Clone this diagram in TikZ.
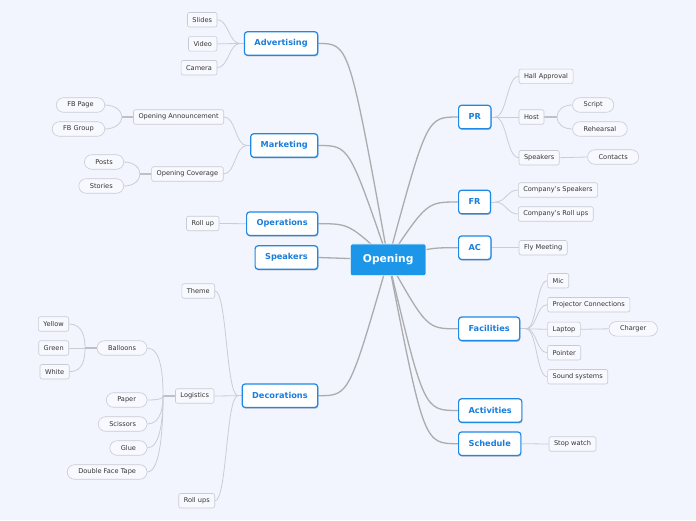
\documentclass[tikz,border=0pt]{standalone}
\usepackage{fontspec}
\setmainfont{DejaVu Sans}
\usetikzlibrary{shadows}
\definecolor{bg}{RGB}{242,245,254}
\definecolor{rootfill}{RGB}{27,150,232}
\definecolor{mainborder}{RGB}{30,136,229}
\definecolor{maintext}{RGB}{26,125,220}
\definecolor{shadowc}{RGB}{90,110,150}
\definecolor{leaffill}{RGB}{247,249,254}
\definecolor{leafborder}{RGB}{200,203,212}
\definecolor{leaftext}{RGB}{51,51,51}
\definecolor{trunkc}{RGB}{172,172,174}
\definecolor{subc}{RGB}{202,205,212}
\definecolor{stubc}{RGB}{190,192,198}
\pgfdeclarelayer{bgl}
\pgfdeclarelayer{edges}
\pgfsetlayers{bgl,edges,main}
\begin{document}
\begin{tikzpicture}[x=1pt,y=-1pt,
  rootnode/.style={fill=rootfill, draw=white, line width=0.6pt, rounded corners=2pt, text=white,
    font=\fontsize{10.7}{12}\selectfont\bfseries, inner xsep=12.5pt, inner ysep=0pt, minimum height=31.7pt},
  mainnode/.style={fill=white, draw=mainborder, line width=1.2pt, rounded corners=3pt, text=maintext,
    font=\fontsize{8.2}{10}\selectfont\bfseries, inner xsep=10pt, inner ysep=0pt, minimum height=23.5pt,
    drop shadow={shadow xshift=0.6pt, shadow yshift=-1.2pt, fill=shadowc, opacity=0.45}},
  leaf/.style={fill=leaffill, draw=leafborder, line width=0.6pt, rounded corners=2pt, text=leaftext,
    font=\fontsize{6.6}{8}\selectfont, inner xsep=5pt, inner ysep=0pt, minimum height=14.5pt},
  pill/.style={leaf, rounded corners=7.2pt, inner xsep=11pt},
  trunk/.style={draw=trunkc, line width=1.3pt},
  sub/.style={draw=subc, line width=0.8pt},
  stub/.style={draw=stubc, line width=1.8pt}
]
\begin{pgfonlayer}{bgl}
\fill[bg] (0,0) rectangle (696,520);
\end{pgfonlayer}
\useasboundingbox (0,0) rectangle (696,520);

% root
\node[rootnode] (root) at (388.2,259.8) {Opening};

% main nodes left
\node[mainnode, anchor=east] (adv) at (318.3,43.5) {Advertising};
\node[mainnode, anchor=east] (mkt) at (318.3,145.5) {Marketing};
\node[mainnode, anchor=east] (ops) at (318.3,223.7) {Operations};
\node[mainnode, anchor=east] (spk) at (318.3,257.5) {Speakers};
\node[mainnode, anchor=east] (dec) at (318.3,395.7) {Decorations};
% main nodes right
\node[mainnode, anchor=west] (pr) at (458,117) {PR};
\node[mainnode, anchor=west] (fr) at (458,202) {FR};
\node[mainnode, anchor=west] (ac) at (458,247.7) {AC};
\node[mainnode, anchor=west] (fac) at (458,328.8) {Facilities};
\node[mainnode, anchor=west] (act) at (458,410.5) {Activities};
\node[mainnode, anchor=west] (sch) at (458,443.7) {Schedule};

% left level 2
\node[leaf, anchor=east] (slides) at (217.3,19.7) {Slides};
\node[leaf, anchor=east] (video) at (217.3,43.8) {Video};
\node[leaf, anchor=east] (camera) at (217.3,67.7) {Camera};
\node[leaf, anchor=east] (oann) at (224,117) {Opening Announcement};
\node[leaf, anchor=east] (ocov) at (223.5,174) {Opening Coverage};
\node[leaf, anchor=east] (rollup) at (219.3,223.5) {Roll up};
\node[leaf, anchor=east] (theme) at (215,291) {Theme};
\node[leaf, anchor=east] (logi) at (214.3,396) {Logistics};
\node[leaf, anchor=east] (rollups) at (215,500.7) {Roll ups};
% left level 3
\node[pill, anchor=east] (fbpage) at (105,105) {FB Page};
\node[pill, anchor=east] (fbgroup) at (105,129) {FB Group};
\node[pill, anchor=east] (posts) at (124,162) {Posts};
\node[pill, anchor=east] (stories) at (124,186) {Stories};
\node[pill, anchor=east] (balloons) at (147.3,348) {Balloons};
\node[pill, anchor=east] (paper) at (147.3,400) {Paper};
\node[pill, anchor=east] (scissors) at (147.3,424) {Scissors};
\node[pill, anchor=east] (glue) at (147.3,448) {Glue};
\node[pill, anchor=east] (dft) at (147.3,472) {Double Face Tape};
% left level 4
\node[leaf, anchor=east] (yellow) at (69,324) {Yellow};
\node[leaf, anchor=east] (green) at (69,348) {Green};
\node[leaf, anchor=east] (white) at (69.5,371.7) {White};

% right level 2
\node[leaf, anchor=west] (hall) at (518.7,76.3) {Hall Approval};
\node[leaf, anchor=west] (host) at (518.7,117) {Host};
\node[leaf, anchor=west] (spk2) at (518.7,157.7) {Speakers};
\node[leaf, anchor=west] (csp) at (518,190) {Company's Speakers};
\node[leaf, anchor=west] (cru) at (518,214) {Company's Roll ups};
\node[leaf, anchor=west] (fly) at (518.7,247.7) {Fly Meeting};
\node[leaf, anchor=west] (mic) at (547.3,280.7) {Mic};
\node[leaf, anchor=west] (proj) at (547.3,304.7) {Projector Connections};
\node[leaf, anchor=west] (laptop) at (547.3,329.3) {Laptop};
\node[leaf, anchor=west] (pointer) at (547.3,352.7) {Pointer};
\node[leaf, anchor=west] (sound) at (547.3,376.7) {Sound systems};
\node[leaf, anchor=west] (stop) at (548.7,444) {Stop watch};
% right level 3
\node[pill, anchor=west] (script) at (572.3,105) {Script};
\node[pill, anchor=west] (rehe) at (572.3,129) {Rehearsal};
\node[pill, anchor=west] (contacts) at (587.3,157) {Contacts};
\node[pill, anchor=west] (charger) at (608.7,328.8) {Charger};

% junctions
\coordinate (jadv) at (240,43.5);
\coordinate (jmkt) at (247,145.5);
\coordinate (jdec) at (238,395.7);
\coordinate (joann) at (122,117);
\coordinate (jocov) at (140,174);
\coordinate (jlogi) at (163,396);
\coordinate (jball) at (85,348);
\coordinate (jpr) at (495,117);
\coordinate (jfr) at (495,202);
\coordinate (jfac) at (526,328.8);
\coordinate (jhost) at (557,117);

\begin{pgfonlayer}{edges}
% trunks
\draw[trunk] (adv.east) .. controls (349,43.5) .. (root.center);
\draw[trunk] (mkt.east) .. controls (349,145.5) .. (root.center);
\draw[trunk] (ops.east) .. controls (349,223.7) .. (root.center);
\draw[trunk] (spk.east) -- (root.center);
\draw[trunk] (dec.east) .. controls (349,395.7) .. (root.center);
\draw[trunk] (pr.west) .. controls (427,117) .. (root.center);
\draw[trunk] (fr.west) .. controls (427,202) .. (root.center);
\draw[trunk] (ac.west) .. controls (430,247.7) .. (root.center);
\draw[trunk] (fac.west) .. controls (427,328.8) .. (root.center);
\draw[trunk] (act.west) .. controls (424,410.5) .. (root.center);
\draw[trunk] (sch.west) .. controls (424,443.7) .. (root.center);

% advertising
\draw[sub] (jadv) -- (adv.west);
\draw[sub] (slides.east) .. controls +(11,0) and +(-11,0) .. (jadv);
\draw[sub] (video.east) -- (jadv);
\draw[sub] (camera.east) .. controls +(11,0) and +(-11,0) .. (jadv);
% marketing
\draw[sub] (jmkt) -- (mkt.west);
\draw[sub] (oann.east) .. controls +(12,0) and +(-12,0) .. (jmkt);
\draw[sub] (ocov.east) .. controls +(12,0) and +(-12,0) .. (jmkt);
\draw[stub] (oann.west) -- (joann);
\draw[sub] (fbpage.east) .. controls +(10,0) and +(0,-6) .. (joann);
\draw[sub] (fbgroup.east) .. controls +(10,0) and +(0,6) .. (joann);
\draw[stub] (ocov.west) -- (jocov);
\draw[sub] (posts.east) .. controls +(10,0) and +(0,-6) .. (jocov);
\draw[sub] (stories.east) .. controls +(10,0) and +(0,6) .. (jocov);
% operations
\draw[sub] (rollup.east) -- (ops.west);
% decorations
\draw[sub] (jdec) -- (dec.west);
\draw[sub] (theme.east) .. controls +(12,0) and +(-12,0) .. (jdec);
\draw[sub] (logi.east) -- (jdec);
\draw[sub] (rollups.east) .. controls +(12,0) and +(-12,0) .. (jdec);
\draw[stub] (logi.west) -- (jlogi);
\draw[sub] (balloons.east) .. controls +(14,0) and +(0,-20) .. (jlogi);
\draw[sub] (paper.east) .. controls +(10,0) and +(0,3) .. (jlogi);
\draw[sub] (scissors.east) .. controls +(14,0) and +(0,10) .. (jlogi);
\draw[sub] (glue.east) .. controls +(14,0) and +(0,18) .. (jlogi);
\draw[sub] (dft.east) .. controls +(14,0) and +(0,26) .. (jlogi);
\draw[stub] (balloons.west) -- (jball);
\draw[sub] (yellow.east) .. controls +(14,0) and +(0,-10) .. (jball);
\draw[sub] (green.east) -- (jball);
\draw[sub] (white.east) .. controls +(14,0) and +(0,10) .. (jball);
% PR
\draw[sub] (pr.east) -- (jpr);
\draw[sub] (jpr) .. controls +(12,0) and +(-12,0) .. (hall.west);
\draw[sub] (jpr) -- (host.west);
\draw[sub] (jpr) .. controls +(12,0) and +(-12,0) .. (spk2.west);
\draw[stub] (host.east) -- (jhost);
\draw[sub] (jhost) .. controls +(0,-7) and +(-9,0) .. (script.west);
\draw[sub] (jhost) .. controls +(0,7) and +(-9,0) .. (rehe.west);
\draw[sub] (spk2.east) -- (contacts.west);
% FR
\draw[sub] (fr.east) -- (jfr);
\draw[sub] (jfr) .. controls +(11,0) and +(-11,0) .. (csp.west);
\draw[sub] (jfr) .. controls +(11,0) and +(-11,0) .. (cru.west);
% AC
\draw[sub] (ac.east) -- (fly.west);
% Facilities
\draw[sub] (fac.east) -- (jfac);
\draw[sub] (jfac) .. controls +(11,0) and +(-11,0) .. (mic.west);
\draw[sub] (jfac) .. controls +(11,0) and +(-11,0) .. (proj.west);
\draw[sub] (jfac) -- (laptop.west);
\draw[sub] (jfac) .. controls +(11,0) and +(-11,0) .. (pointer.west);
\draw[sub] (jfac) .. controls +(11,0) and +(-11,0) .. (sound.west);
\draw[sub] (laptop.east) -- (charger.west);
% Schedule
\draw[sub] (sch.east) -- (stop.west);
\end{pgfonlayer}
\end{tikzpicture}
\end{document}
